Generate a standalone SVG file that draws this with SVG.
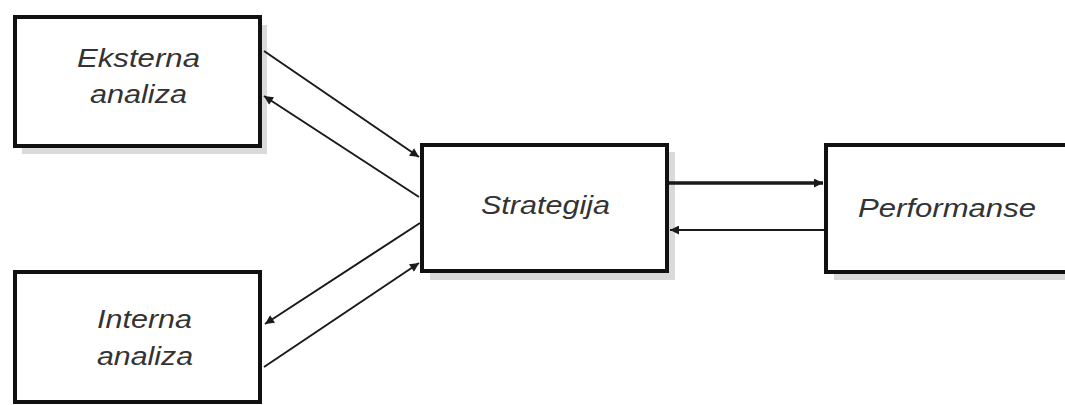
<svg xmlns="http://www.w3.org/2000/svg" width="1065" height="405" viewBox="0 0 1065 405">
<style>
.box{fill:#fff;stroke:#111;stroke-width:4}
.shadow{fill:#dadada}
.lbl{font-family:"Liberation Sans",Arial,sans-serif;font-style:italic;font-size:26px;fill:#333}
.ln{stroke:#1a1a1a;stroke-width:2;fill:none}
.thick{stroke-width:3.5}
</style>
<defs>
<marker id="ah" viewBox="0 0 10 10" refX="10" refY="5" markerWidth="11" markerHeight="9" orient="auto" markerUnits="userSpaceOnUse">
<path d="M0,0 L10,5 L0,10 z" fill="#1a1a1a"/>
</marker>
</defs>
<rect width="1065" height="405" fill="#fff"/>
<g id="eksterna">
<rect class="shadow" x="22" y="25" width="245" height="129"/>
<rect class="box" x="15" y="17" width="245" height="129"/>
<text class="lbl" x="77" y="67" textLength="123" lengthAdjust="spacingAndGlyphs">Eksterna</text>
<text class="lbl" x="90" y="103" textLength="97" lengthAdjust="spacingAndGlyphs">analiza</text>
</g>
<g id="interna">
<rect class="box" x="15" y="272" width="245" height="130"/>
<text class="lbl" x="97" y="328" textLength="95" lengthAdjust="spacingAndGlyphs">Interna</text>
<text class="lbl" x="97" y="365" textLength="96" lengthAdjust="spacingAndGlyphs">analiza</text>
</g>
<g id="strategija">
<rect class="shadow" x="430" y="152" width="245" height="128"/>
<rect class="box" x="422" y="145" width="245" height="126"/>
<text class="lbl" x="481" y="214" textLength="129" lengthAdjust="spacingAndGlyphs">Strategija</text>
</g>
<g id="performanse">
<rect class="shadow" x="834" y="152" width="240" height="128"/>
<rect class="box" x="826" y="145" width="245" height="127"/>
<text class="lbl" x="858" y="217" textLength="178" lengthAdjust="spacingAndGlyphs">Performanse</text>
</g>
<g id="connectors">
<line class="ln" x1="264" y1="51" x2="419" y2="157" marker-end="url(#ah)"/>
<line class="ln" x1="419" y1="197" x2="264" y2="96" marker-end="url(#ah)"/>
<line class="ln" x1="420" y1="223" x2="265" y2="324" marker-end="url(#ah)"/>
<line class="ln" x1="264" y1="367" x2="419" y2="263" marker-end="url(#ah)"/>
<line class="ln thick" x1="669" y1="183" x2="823" y2="183" marker-end="url(#ah)"/>
<line class="ln" x1="824" y1="230" x2="670" y2="230" marker-end="url(#ah)"/>
</g>
</svg>
